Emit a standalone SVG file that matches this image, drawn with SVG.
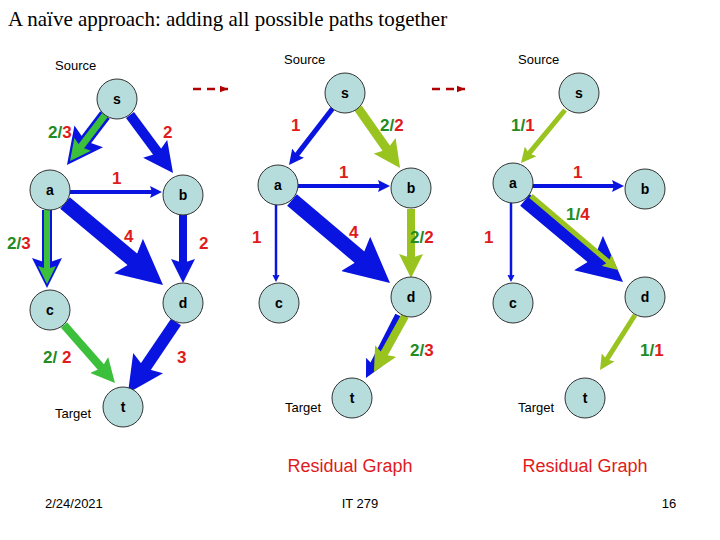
<svg xmlns="http://www.w3.org/2000/svg" width="720" height="540" viewBox="0 0 720 540">
<style>
.n{fill:#b7dcdc;stroke:#333;stroke-width:1}
.nt{font:bold 14px "Liberation Sans",Arial,sans-serif;text-anchor:middle}
.sm{font:13px "Liberation Sans",Arial,sans-serif}
.l{font:bold 17px "Liberation Sans",Arial,sans-serif}
.r{fill:#e01b1b}.g{fill:#228b22}
.b{stroke:#0a14e0;fill:none}.gr{stroke:#3cc03c;fill:none}.y{stroke:#99c31e;fill:none}
</style>
<defs>
<marker id="hb" viewBox="0 0 3 3" refX="1" refY="1.5" markerWidth="3" markerHeight="3" markerUnits="strokeWidth" orient="auto"><path d="M0,0L3,1.5L0,3L0.5,1.5z" fill="#0a14e0"/></marker>
<marker id="hg" viewBox="0 0 3 3" refX="1" refY="1.5" markerWidth="3" markerHeight="3" markerUnits="strokeWidth" orient="auto"><path d="M0,0L3,1.5L0,3L0.5,1.5z" fill="#3cc03c"/></marker>
<marker id="hy" viewBox="0 0 3 3" refX="1" refY="1.5" markerWidth="3" markerHeight="3" markerUnits="strokeWidth" orient="auto"><path d="M0,0L3,1.5L0,3L0.5,1.5z" fill="#99c31e"/></marker>
<marker id="hd" viewBox="0 0 10 10" refX="10" refY="5" markerWidth="8" markerHeight="8" markerUnits="userSpaceOnUse" orient="auto"><path d="M0,1L10,5L0,9z" fill="#b00000"/></marker>
</defs>
<text x="8" y="26" font-family="Liberation Serif,serif" font-size="21">A naïve approach: adding all possible paths together</text>
<g id="connectors">
<line x1="193" y1="89" x2="228" y2="89" stroke="#b00000" stroke-width="2.5" stroke-dasharray="8,6" marker-end="url(#hd)"/>
<line x1="432" y1="89" x2="465" y2="89" stroke="#b00000" stroke-width="2.5" stroke-dasharray="8,6" marker-end="url(#hd)"/>
<!-- D1 -->
<line class="b" x1="105" y1="115" x2="81.5" y2="145.9" stroke-width="12" marker-end="url(#hb)"/>
<line class="gr" x1="105" y1="115" x2="78.5" y2="149.9" stroke-width="7" marker-end="url(#hg)"/>
<line class="b" x1="130" y1="115" x2="161.1" y2="156.9" stroke-width="10" marker-end="url(#hb)"/>
<line class="b" x1="70" y1="192" x2="154" y2="192" stroke-width="4" marker-end="url(#hb)"/>
<line class="b" x1="47" y1="210" x2="47" y2="268" stroke-width="10" marker-end="url(#hb)"/>
<line class="gr" x1="47" y1="210" x2="47" y2="272" stroke-width="6" marker-end="url(#hg)"/>
<line class="b" x1="65" y1="203" x2="140" y2="265.7" stroke-width="15" marker-end="url(#hb)"/>
<line class="b" x1="183" y1="213" x2="183" y2="267" stroke-width="8" marker-end="url(#hb)"/>
<line class="gr" x1="64" y1="325" x2="104.4" y2="371" stroke-width="8" marker-end="url(#hg)"/>
<line class="b" x1="176" y1="322" x2="141.4" y2="373.1" stroke-width="12" marker-end="url(#hb)"/>
<!-- D2 -->
<line class="b" x1="333" y1="108" x2="295.1" y2="157.1" stroke-width="5" marker-end="url(#hb)"/>
<line class="y" x1="358" y1="108" x2="389.7" y2="153.2" stroke-width="9" marker-end="url(#hy)"/>
<line class="b" x1="298" y1="186" x2="382" y2="186" stroke-width="4" marker-end="url(#hb)"/>
<line class="b" x1="276" y1="205" x2="276" y2="277" stroke-width="2.5" marker-end="url(#hb)"/>
<line class="b" x1="292" y1="200" x2="367.1" y2="263.6" stroke-width="15" marker-end="url(#hb)"/>
<line class="y" x1="411" y1="209" x2="411" y2="262" stroke-width="8" marker-end="url(#hy)"/>
<line class="b" x1="398" y1="315" x2="371.4" y2="367.3" stroke-width="6" marker-end="url(#hb)"/>
<line class="y" x1="405" y1="316" x2="381.7" y2="358" stroke-width="8" marker-end="url(#hy)"/>
<!-- D3 -->
<line class="y" x1="565" y1="110" x2="527.4" y2="155.3" stroke-width="5" marker-end="url(#hy)"/>
<line class="b" x1="533" y1="186" x2="616" y2="186" stroke-width="4" marker-end="url(#hb)"/>
<line class="b" x1="511" y1="203" x2="511" y2="277" stroke-width="2.5" marker-end="url(#hb)"/>
<line class="b" x1="525" y1="200" x2="600" y2="262.7" stroke-width="15" marker-end="url(#hb)"/>
<line class="y" x1="531" y1="196" x2="610.4" y2="263.5" stroke-width="5" marker-end="url(#hy)"/>
<line class="y" x1="635" y1="315" x2="605.4" y2="361.6" stroke-width="5" marker-end="url(#hy)"/>
</g>
<g id="d1-s"><circle class="n" cx="117" cy="99" r="20"/><text class="nt" x="117" y="104">s</text></g>
<g id="d1-a"><circle class="n" cx="50" cy="190" r="20"/><text class="nt" x="50" y="195">a</text></g>
<g id="d1-b"><circle class="n" cx="183" cy="195" r="20"/><text class="nt" x="183" y="200">b</text></g>
<g id="d1-c"><circle class="n" cx="50" cy="310" r="20"/><text class="nt" x="50" y="315">c</text></g>
<g id="d1-d"><circle class="n" cx="183" cy="303" r="20"/><text class="nt" x="183" y="308">d</text></g>
<g id="d1-t"><circle class="n" cx="123" cy="407" r="20"/><text class="nt" x="123" y="412">t</text></g>
<g id="d2-s"><circle class="n" cx="345" cy="93" r="20"/><text class="nt" x="345" y="98">s</text></g>
<g id="d2-a"><circle class="n" cx="278" cy="185" r="20"/><text class="nt" x="278" y="190">a</text></g>
<g id="d2-b"><circle class="n" cx="411" cy="188" r="20"/><text class="nt" x="411" y="193">b</text></g>
<g id="d2-c"><circle class="n" cx="279" cy="303" r="20"/><text class="nt" x="279" y="308">c</text></g>
<g id="d2-d"><circle class="n" cx="411" cy="297" r="20"/><text class="nt" x="411" y="302">d</text></g>
<g id="d2-t"><circle class="n" cx="352" cy="398" r="20"/><text class="nt" x="352" y="403">t</text></g>
<g id="d3-s"><circle class="n" cx="579" cy="93" r="20"/><text class="nt" x="579" y="98">s</text></g>
<g id="d3-a"><circle class="n" cx="513" cy="183" r="20"/><text class="nt" x="513" y="188">a</text></g>
<g id="d3-b"><circle class="n" cx="645" cy="189" r="20"/><text class="nt" x="645" y="194">b</text></g>
<g id="d3-c"><circle class="n" cx="513" cy="303" r="20"/><text class="nt" x="513" y="308">c</text></g>
<g id="d3-d"><circle class="n" cx="645" cy="297" r="20"/><text class="nt" x="645" y="302">d</text></g>
<g id="d3-t"><circle class="n" cx="585" cy="398" r="20"/><text class="nt" x="585" y="403">t</text></g>
<g id="labels">
<text class="sm" x="55" y="70">Source</text><text class="sm" x="284" y="64">Source</text><text class="sm" x="518" y="64">Source</text>
<text class="sm" x="55" y="418">Target</text><text class="sm" x="285" y="412">Target</text><text class="sm" x="518" y="412">Target</text>
<text class="l" x="48" y="138"><tspan class="g">2/</tspan><tspan class="r">3</tspan></text>
<text class="l r" x="163" y="138">2</text>
<text class="l r" x="112" y="184">1</text>
<text class="l r" x="124" y="242">4</text>
<text class="l" x="7" y="249"><tspan class="g">2/</tspan><tspan class="r">3</tspan></text>
<text class="l r" x="199" y="249">2</text>
<text class="l" x="43" y="363"><tspan class="g">2/ </tspan><tspan class="r">2</tspan></text>
<text class="l r" x="177" y="363">3</text>
<text class="l r" x="291" y="131">1</text>
<text class="l" x="380" y="131"><tspan class="g">2/</tspan><tspan class="r">2</tspan></text>
<text class="l r" x="339" y="178">1</text>
<text class="l r" x="349" y="238">4</text>
<text class="l r" x="252" y="243">1</text>
<text class="l" x="410" y="243"><tspan class="g">2/</tspan><tspan class="r">2</tspan></text>
<text class="l" x="410" y="356"><tspan class="g">2/</tspan><tspan class="r">3</tspan></text>
<text class="l" x="511" y="131"><tspan class="g">1/</tspan><tspan class="r">1</tspan></text>
<text class="l r" x="573" y="178">1</text>
<text class="l" x="566" y="220"><tspan class="g">1/</tspan><tspan class="r">4</tspan></text>
<text class="l r" x="484" y="243">1</text>
<text class="l" x="640" y="356"><tspan class="g">1/</tspan><tspan class="r">1</tspan></text>
<text x="350" y="472" text-anchor="middle" font-family="Liberation Sans,Arial,sans-serif" font-size="18" fill="#e01b1b">Residual Graph</text>
<text x="585" y="472" text-anchor="middle" font-family="Liberation Sans,Arial,sans-serif" font-size="18" fill="#e01b1b">Residual Graph</text>
<text class="sm" x="45" y="508">2/24/2021</text>
<text class="sm" x="360" y="508" text-anchor="middle">IT 279</text>
<text class="sm" x="669" y="508" text-anchor="middle">16</text>
</g>
</svg>
